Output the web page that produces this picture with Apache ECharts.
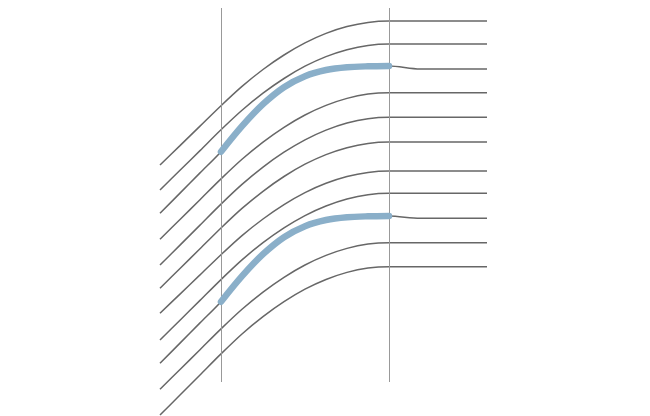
<!DOCTYPE html>
<html>
<head>
<meta charset="utf-8">
<script src="https://cdn.jsdelivr.net/npm/echarts@6/dist/echarts.min.js"></script>
<style>
  html, body { margin: 0; padding: 0; background: #ffffff; }
  #chart { width: 650px; height: 416px; }
</style>
</head>
<body>
<div id="chart"></div>
<script>
// x positions of the sampled points
const xPos = [0, 20, 40, 61, 82, 103, 124, 145, 166, 187, 208, 229, 260, 327];
// series values (depth axis, top = 0)
const line1  = [165, 145.6, 126.1, 105.7, 86.4, 69.5, 55, 42.9, 33.4, 26.6, 22.4, 21, 21, 21];
const line2  = [190, 170.3, 150.6, 129.8, 110.3, 93.2, 78.5, 66.2, 56.6, 49.7, 45.4, 44, 44, 44];
const line3  = [213.3, 193.1, 172.9, 151.7, 126.2, 104.2, 87.2, 76.2, 70, 67.2, 66.3, 66, 69, 69];
const line4  = [239.3, 219.5, 199.7, 178.9, 159.3, 142.1, 127.3, 115, 105.4, 98.4, 94.1, 92.7, 92.7, 92.7];
const line5  = [265, 245.1, 225.1, 204.1, 184.4, 167.1, 152.2, 139.8, 130.1, 123, 118.7, 117.3, 117.3, 117.3];
const line6  = [288.3, 268.5, 248.8, 228, 208.4, 191.3, 176.5, 164.2, 154.6, 147.7, 143.4, 142, 142, 142];
const line7  = [313.3, 294.1, 274.9, 254.7, 235.6, 219, 204.6, 192.6, 183.3, 176.5, 172.4, 171, 171, 171];
const line8  = [340, 320.2, 300.4, 279.6, 259.9, 242.7, 227.9, 215.6, 206, 199, 194.7, 193.3, 193.3, 193.3];
const line9  = [363.3, 343.1, 322.9, 301.7, 276.2, 254.2, 237.2, 226.2, 220, 217.2, 216.3, 216, 218.3, 218.3];
const line10 = [389.3, 369.5, 349.7, 328.9, 309.3, 292.1, 277.3, 265, 255.4, 248.4, 244.1, 242.7, 242.7, 242.7];
const line11 = [415, 395, 375, 353.9, 334, 316.7, 301.7, 289.2, 279.5, 272.4, 268.1, 266.7, 266.7, 266.7];
const lines = [line1, line2, line3, line4, line5, line6, line7, line8, line9, line10, line11];
// highlighted lines and the range of points (indices) that are highlighted
const highlighted = [2, 8];
const highlightFrom = 3;
const highlightTo = 11;
// vertical reference markers
const markerX = [61, 229];
const markerSpan = [8, 382];

const chart = echarts.init(document.getElementById('chart'), null, { renderer: 'canvas' });

const series = [];
lines.forEach(function (vals, i) {
  series.push({
    type: 'line',
    data: vals.map(function (v, j) { return [xPos[j], v]; }),
    symbol: 'none',
    smooth: 0.3,
    z: 2,
    silent: true,
    lineStyle: { color: '#676767', width: 1.5 },
    markLine: i === 0 ? {
      silent: true,
      symbol: ['none', 'none'],
      label: { show: false },
      lineStyle: { color: '#999999', width: 1, type: 'solid' },
      data: markerX.map(function (x) {
        return [{ coord: [x, markerSpan[0]] }, { coord: [x, markerSpan[1]] }];
      })
    } : undefined
  });
});
highlighted.forEach(function (idx) {
  const vals = lines[idx];
  const d = [];
  for (let j = highlightFrom; j <= highlightTo; j++) d.push([xPos[j], vals[j]]);
  series.push({
    type: 'line',
    data: d,
    symbol: 'none',
    smooth: 0.3,
    z: 5,
    silent: true,
    lineStyle: { color: '#8aafc9', width: 6.5, cap: 'round' }
  });
});

chart.setOption({
  animation: false,
  backgroundColor: '#ffffff',
  grid: { left: 160, right: 163, top: 0, bottom: 0 },
  xAxis: { type: 'value', min: 0, max: 327, show: false },
  yAxis: { type: 'value', min: 0, max: 416, inverse: true, show: false },
  series: series
});
</script>
</body>
</html>
